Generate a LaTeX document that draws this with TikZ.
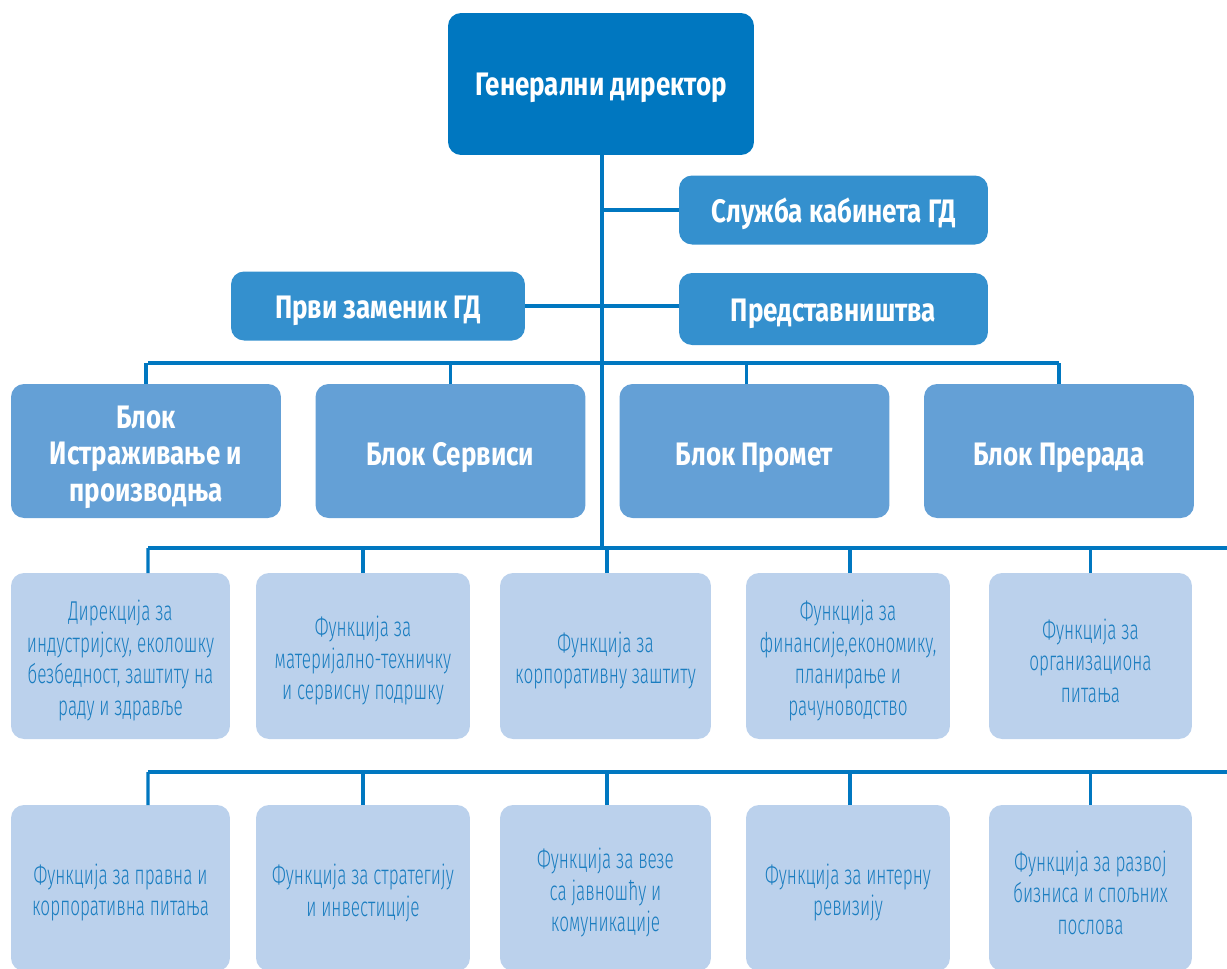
\documentclass[tikz,border=0pt]{standalone}
\usepackage{fontspec}
\setmainfont{Fira Sans}[FakeStretch=0.8]
\newfontfamily\funcfont{Fira Sans Light}[FakeStretch=0.63]
\definecolor{gdblue}{RGB}{0,119,192}
\definecolor{midblue}{RGB}{52,144,206}
\definecolor{blkblue}{RGB}{100,160,214}
\definecolor{funblue}{RGB}{187,209,236}
\definecolor{funtext}{RGB}{26,125,192}
\newcommand{\funstrut}{\rule{0pt}{17pt}}
\newcommand{\blkstrut}{\rule{0pt}{20pt}}
\tikzset{
  box/.style={rounded corners=0.26cm, inner sep=0pt, outer sep=0pt, align=center},
  gdbox/.style={box, fill=gdblue, text=white, minimum width=6.12cm, minimum height=2.84cm,
    font=\bfseries\fontsize{18.5}{22}\selectfont, execute at begin node={\rule{0pt}{17.2pt}}},
  midbox/.style={box, fill=midblue, text=white, minimum width=6.18cm, minimum height=1.38cm,
    font=\bfseries\fontsize{18.5}{22}\selectfont, execute at begin node={\rule{0pt}{18pt}}},
  blkbox/.style={box, fill=blkblue, text=white, minimum width=5.4cm, minimum height=2.68cm,
    font=\bfseries\fontsize{18.5}{21}\selectfont, execute at begin node={\rule{0pt}{20.5pt}}},
  funbox/.style={box, fill=funblue, text=funtext, minimum height=3.32cm,
    font=\funcfont\fontsize{15.5}{18}\selectfont},
  link/.style={draw=gdblue, line width=1.9pt}
}
\begin{document}
\begin{tikzpicture}[x=0.02cm, y=-0.02cm]
    \useasboundingbox (0,0) rectangle (1227,968);
    \clip (0,0) rectangle (1227,968);
    \node [gdbox] (gd) at (601,84) {Генерални директор};
    \node [midbox] (kab) at (833.5,210) {Служба кабинета ГД};
    \node [midbox, minimum width=5.88cm] (zam) at (378,306) {Први заменик ГД};
    \node [midbox, minimum height=1.44cm] (pred) at (833.5,309) {Представништва};
    \node [blkbox] (istr) at (146,451) {\blkstrut Блок\\Истраживање и\\производња};
    \node [blkbox] (serv) at (450.5,451) {Блок Сервиси};
    \node [blkbox] (prom) at (754.5,451) {Блок Промет};
    \node [blkbox] (prer) at (1059,451) {Блок Прерада};
    \node [funbox, minimum width=4.38cm] (bzr) at (120.5,656) {\funstrut Дирекција за\\индустријску, еколошку\\безбедност, заштиту на\\раду и здравље};
    \node [funbox, minimum width=4.28cm] (mts) at (363,656) {\funstrut Функција за\\материјално-техничку\\и сервисну подршку};
    \node [funbox, minimum width=4.22cm] (korz) at (605.5,656) {\funstrut Функција за\\корпоративну заштиту};
    \node [funbox, minimum width=4.08cm] (fin) at (848,656) {\funstrut Функција за\\финансије,економику,\\планирање и\\рачуноводство};
    \node [funbox, minimum width=4.06cm] (org) at (1090.5,656) {\funstrut Функција за\\организациона\\питања};
    \node [funbox, minimum width=4.38cm] (prav) at (120.5,888) {\funstrut Функција за правна и\\корпоративна питања};
    \node [funbox, minimum width=4.28cm] (strat) at (363,888) {\funstrut Функција за стратегију\\и инвестиције};
    \node [funbox, minimum width=4.22cm] (jav) at (605.5,888) {\funstrut Функција за везе\\са јавношћу и\\комуникације};
    \node [funbox, minimum width=4.08cm] (rev) at (848,888) {\funstrut Функција за интерну\\ревизију};
    \node [funbox, minimum width=4.06cm] (razv) at (1090.5,888) {\funstrut Функција за развој\\бизниса и спољних\\послова};
    \coordinate (busa) at (148,363);
    \coordinate (busb) at (148,548);
    \coordinate (busc) at (148,772);
    \coordinate (busbR) at (1227,548);
    \coordinate (buscR) at (1227,772);
    \draw [link] (gd.south -| 602,0) -- (602,548);
    \draw [link] (gd.south -| 602,0) |- (kab.west);
    \draw [link] (zam.east) -- (zam.east -| pred.west);
    \draw [link] (busa) -- (prer.north |- busa);
    \draw [link] (istr.north) -- (istr.north |- busa);
    \draw [link] (serv.north) -- (serv.north |- busa);
    \draw [link] ([xshift=-0.16cm]prom.north) -- ([xshift=-0.16cm]prom.north |- busa);
    \draw [link] (prer.north) -- (prer.north |- busa);
    \draw [link] (busb) -- (busbR);
    \draw [link] ([xshift=0.55cm]bzr.north) -- (busb);
    \draw [link] (mts.north) -- (mts.north |- busb);
    \draw [link] ([xshift=0.03cm]korz.north) -- ([xshift=0.03cm]korz.north |- busb);
    \draw [link] ([xshift=0.04cm]fin.north) -- ([xshift=0.04cm]fin.north |- busb);
    \draw [link] (org.north) -- (org.north |- busb);
    \draw [link] (busc) -- (buscR);
    \draw [link] ([xshift=0.55cm]prav.north) -- (busc);
    \draw [link] (strat.north) -- (strat.north |- busc);
    \draw [link] ([xshift=0.03cm]jav.north) -- ([xshift=0.03cm]jav.north |- busc);
    \draw [link] ([xshift=0.04cm]rev.north) -- ([xshift=0.04cm]rev.north |- busc);
    \draw [link] (razv.north) -- (razv.north |- busc);
  \end{tikzpicture}
\end{document}
